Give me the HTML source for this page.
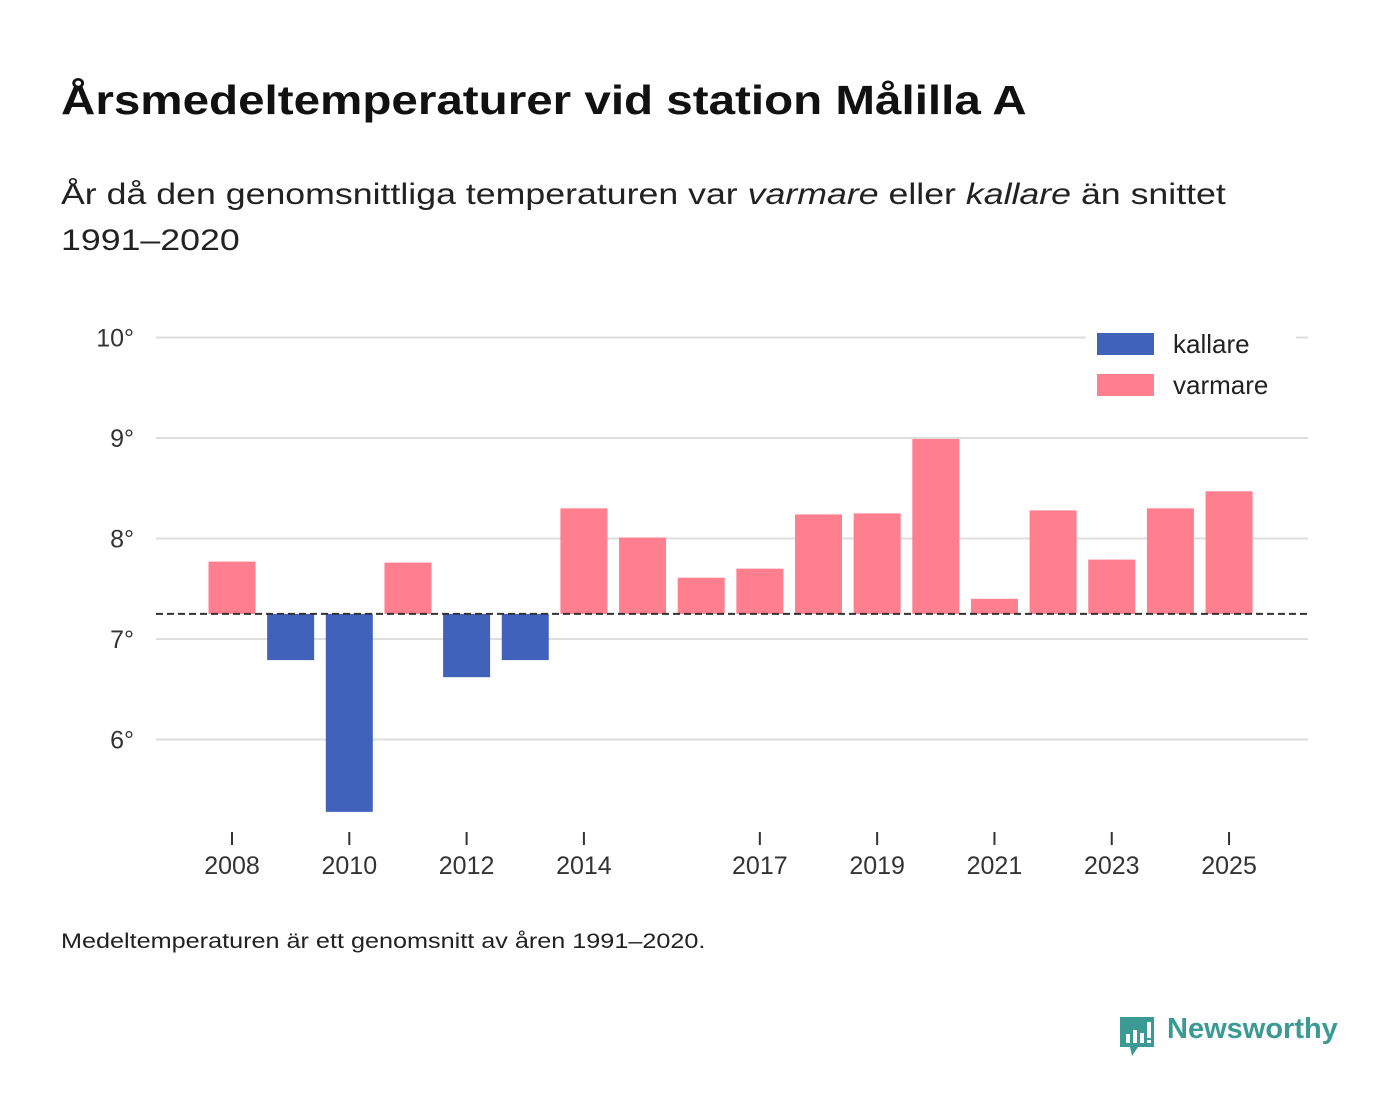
<!DOCTYPE html>
<html><head><meta charset="utf-8"><style>
body{margin:0;width:1400px;height:1116px;background:#fff;font-family:"Liberation Sans",sans-serif;color:#111;position:relative;overflow:hidden}
.t{position:absolute;left:61px;top:77px;font-size:41px;font-weight:bold;margin:0;transform:scaleX(1.16);transform-origin:left;white-space:nowrap}
.s{position:absolute;left:61px;top:172px;font-size:30px;line-height:46px;color:#222;transform:scaleX(1.19);transform-origin:left;white-space:nowrap}
.f{position:absolute;left:61px;top:930px;font-size:21px;color:#222;transform:scaleX(1.2);transform-origin:left;white-space:nowrap}
</style></head><body>
<h1 class="t">Årsmedeltemperaturer vid station Målilla A</h1>
<div class="s">År då den genomsnittliga temperaturen var <i>varmare</i> eller <i>kallare</i> än snittet<br>1991–2020</div>
<svg id="c" width="1400" height="1116" style="position:absolute;left:0;top:0"></svg>
<div class="f">Medeltemperaturen är ett genomsnitt av åren 1991–2020.</div>
<div style="position:absolute;left:1118px;top:1014px;">
<svg width="38" height="44"><path d="M2 3h34v30H20l-6 9-2-9H2z" fill="#3b9b94"/><rect x="8" y="20" width="4" height="9" fill="#fff"/><rect x="15" y="16" width="4" height="13" fill="#fff"/><rect x="22" y="19" width="4" height="10" fill="#fff"/><rect x="29" y="8" width="4" height="16" fill="#fff"/><rect x="29" y="26" width="4" height="3" fill="#fff"/></svg>
<span style="position:absolute;left:49px;top:-1px;font-size:29px;font-weight:bold;color:#3b9b94;white-space:nowrap">Newsworthy</span>
</div>
<script>
const years=[2008,2009,2010,2011,2012,2013,2014,2015,2016,2017,2018,2019,2020,2021,2022,2023,2024,2025];
const temps=[7.77,6.79,5.28,7.76,6.62,6.79,8.30,8.01,7.61,7.70,8.24,8.25,8.99,7.40,8.28,7.79,8.30,8.47];
const yTicks=[6,7,8,9,10];
const xTicks=[2008,2010,2012,2014,2017,2019,2021,2023,2025];
const baseline=7.25;
const svg=document.getElementById('c');const NS='http://www.w3.org/2000/svg';
const y=v=>639-(v-7)*100.5;
const x=yr=>232+(yr-2008)*58.65;
function mk(t,a){const e=document.createElementNS(NS,t);for(const k in a)e.setAttribute(k,a[k]);svg.appendChild(e);return e;}
yTicks.forEach(v=>{
 const l=mk('line',{x1:156,x2:1308,y1:y(v),y2:y(v),stroke:'#ddd','stroke-width':2});
 
 
 const t=mk('text',{x:134,y:y(v)+9,'text-anchor':'end','font-size':25,fill:'#333'});
 t.textContent=v+'°';
 
 
});
years.forEach((yr,i)=>{
 const v=temps[i];const top=Math.min(y(v),y(baseline)),h=Math.abs(y(v)-y(baseline));
 const r=mk('rect',{x:x(yr)-23.5,y:top,width:47,height:h,fill:v>=baseline?'#ff7f8e':'#4062bb'});
 
 
});
const bl=mk('line',{x1:156,x2:1308,y1:y(baseline),y2:y(baseline),stroke:'#333','stroke-width':2,'stroke-dasharray':'7,4'});


xTicks.forEach(yr=>{
 const l=mk('line',{x1:x(yr),x2:x(yr),y1:832,y2:845,stroke:'#333','stroke-width':2});
 
 
 const t=mk('text',{x:x(yr),y:874,'text-anchor':'middle','font-size':25,fill:'#333'});
 t.textContent=yr;
 
 
});
const lb=mk('rect',{x:1086,y:326,width:210,height:80,fill:'#fff'});


[['kallare','#4062bb',333],['varmare','#ff7f8e',374]].forEach(([n,c,yy])=>{
 const r=mk('rect',{x:1097,y:yy,width:57,height:22,fill:c});
 
 
 const t=mk('text',{x:1173,y:yy+20,'font-size':26,fill:'#222'});
 t.textContent=n;
 
 
});
</script>
</body></html>
